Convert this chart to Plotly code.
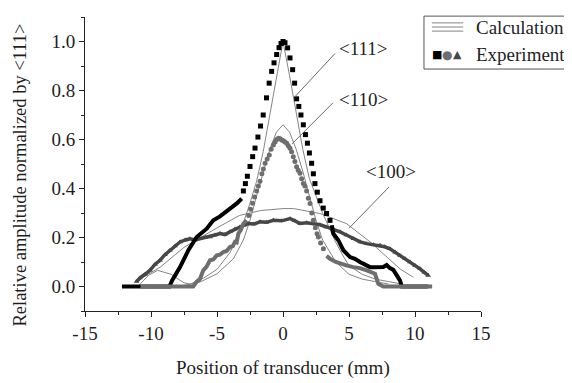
import plotly.graph_objects as go

# ---------------- data ----------------
# Calculation curves (thin gray lines)
calc111_x = [-11.0, -10.2, -9.5, -8.5, -7.5, -7.0, -6.0, -5.0, -4.0, -3.0, -2.5, -2.0, -1.5, -1.0, -0.5, 0.0,
             0.5, 1.0, 1.5, 2.0, 2.5, 3.0, 3.5, 4.0, 4.5, 5.0, 6.0, 7.0, 8.0, 9.0]
calc111_y = [0.0, 0.045, 0.066, 0.05, 0.015, 0.01, 0.035, 0.07, 0.14, 0.26, 0.34, 0.43, 0.55, 0.70, 0.85, 1.0,
             0.86, 0.71, 0.56, 0.44, 0.37, 0.30, 0.24, 0.18, 0.13, 0.085, 0.05, 0.03, 0.02, 0.01]
calc110_x = [-7.5, -6.3, -5.0, -3.76, -3.0, -2.5, -2.0, -1.5, -1.0, -0.5, 0.0, 0.5, 1.0, 1.5, 2.0, 2.5, 3.0,
             4.0, 5.0, 6.0, 7.0, 8.0]
calc110_y = [0.004, 0.018, 0.052, 0.113, 0.19, 0.27, 0.37, 0.47, 0.56, 0.63, 0.66, 0.63, 0.56, 0.47, 0.37,
             0.27, 0.19, 0.10, 0.05, 0.03, 0.02, 0.01]
calc100_x = [-10.6, -9.3, -7.5, -5.3, -3.3, -1.7, 0.0, 0.8, 2.8, 4.8, 6.6, 7.85, 8.86, 9.87]
calc100_y = [0.038, 0.079, 0.16, 0.23, 0.29, 0.31, 0.318, 0.318, 0.298, 0.257, 0.182, 0.12, 0.072, 0.038]

# Experiment <111> (black squares): dense tails and sparse peak
exp111_left_x = [-12.2, -8.6, -8.4, -7.8, -7.17, -6.54, -5.78, -5.28, -4.8, -4.27, -3.9, -3.5, -3.13]
exp111_left_y = [0.0, 0.0, 0.025, 0.079, 0.148, 0.202, 0.236, 0.27, 0.285, 0.305, 0.322, 0.339, 0.359]
exp111_peak_x = [-3.0, -2.85, -2.7, -2.5, -2.3, -2.12, -1.9, -1.7, -1.5, -1.25, -1.05, -0.86, -0.68, -0.48,
                 -0.3, -0.15, 0.0, 0.15, 0.35, 0.53, 0.73, 0.88, 1.03, 1.2, 1.36, 1.54, 1.7, 1.85, 2.0, 2.17,
                 2.3, 2.42, 2.6, 2.8, 3.05, 3.3, 3.56]
exp111_peak_y = [0.39, 0.42, 0.45, 0.49, 0.53, 0.565, 0.61, 0.655, 0.70, 0.77, 0.83, 0.878, 0.913, 0.947,
                 0.975, 0.992, 1.0, 0.995, 0.974, 0.933, 0.885, 0.83, 0.766, 0.735, 0.70, 0.66, 0.62, 0.585,
                 0.545, 0.503, 0.46, 0.42, 0.385, 0.35, 0.32, 0.298, 0.27]
exp111_right_x = [3.7, 3.81, 4.19, 4.57, 5.08, 5.45, 5.83, 6.09, 6.59, 6.84, 7.35, 7.6, 7.85, 8.1, 8.36,
                  8.6, 8.86, 9.0, 11.0]
exp111_right_y = [0.25, 0.216, 0.189, 0.148, 0.12, 0.113, 0.1, 0.093, 0.079, 0.079, 0.079, 0.08, 0.088,
                  0.075, 0.068, 0.045, 0.025, 0.0, 0.0]

# Experiment <110> (gray circles)
exp110_left_x = [-10.8, -6.8, -6.54, -6.3, -6.04, -5.8, -5.53, -5.28, -5.02, -4.77, -4.52, -4.27, -4.02,
                 -3.8, -3.64, -3.51, -3.38, -3.2, -3.0, -2.75]
exp110_left_y = [0.0, 0.0, 0.02, 0.03, 0.066, 0.08, 0.107, 0.11, 0.127, 0.13, 0.141, 0.145, 0.161,
                 0.165, 0.182, 0.18, 0.216, 0.23, 0.257, 0.27]
exp110_peak_x = [-2.6, -2.45, -2.3, -2.15, -2.0, -1.87, -1.74, -1.6, -1.49, -1.36, -1.2, -1.04, -0.9,
                 -0.73, -0.6, -0.48, -0.35, -0.22, -0.1, 0.03, 0.15, 0.28, 0.4, 0.53, 0.65, 0.78, 0.9,
                 1.03, 1.15, 1.29, 1.41, 1.54, 1.66, 1.79, 1.92, 2.05, 2.18, 2.3, 2.45, 2.58, 2.68, 2.85, 3.06]
exp110_peak_y = [0.29, 0.315, 0.34, 0.365, 0.39, 0.41, 0.43, 0.46, 0.48, 0.503, 0.52, 0.537, 0.56,
                 0.578, 0.59, 0.6, 0.605, 0.603, 0.598, 0.595, 0.59, 0.585, 0.575, 0.564, 0.55, 0.53,
                 0.51, 0.489, 0.475, 0.462, 0.44, 0.42, 0.41, 0.39, 0.36, 0.339, 0.30, 0.27, 0.24, 0.215,
                 0.202, 0.178, 0.154]
exp110_right_x = [3.3, 3.56, 4.0, 4.32, 4.8, 5.33, 5.83, 6.34, 6.97, 7.22, 7.6, 11.3]
exp110_right_y = [0.125, 0.113, 0.1, 0.093, 0.086, 0.079, 0.075, 0.066, 0.052, 0.011, 0.0, 0.0]

# Experiment <100> (dark gray triangles)
exp100_x = [-11.1, -10.83, -10.45, -10.08, -9.7, -9.32, -8.94, -8.56, -8.18, -7.8, -7.4, -7.05, -6.67,
            -6.29, -5.9, -5.53, -5.15, -4.77, -4.4, -4.02, -3.64, -3.26, -2.95, -2.63, -2.2, -1.74, -1.25,
            -0.73, -0.1, 0.53, 0.9, 1.29, 1.8, 2.3, 2.8, 3.3, 3.8, 4.32, 4.8, 5.33, 5.85, 6.34, 6.85, 7.35,
            7.7, 8.1, 8.5, 8.86, 9.25, 9.62, 10.0, 10.38, 10.7, 11.0]
exp100_y = [0.02, 0.035, 0.05, 0.066, 0.09, 0.107, 0.13, 0.148, 0.165, 0.182, 0.19, 0.195, 0.19,
            0.195, 0.2, 0.202, 0.21, 0.216, 0.212, 0.223, 0.235, 0.243, 0.25, 0.257, 0.255, 0.264, 0.262,
            0.27, 0.268, 0.277, 0.268, 0.257, 0.26, 0.257, 0.252, 0.243, 0.235, 0.223, 0.21, 0.195, 0.182,
            0.175, 0.17, 0.168, 0.162, 0.154, 0.14, 0.127, 0.113, 0.1, 0.086, 0.072, 0.058, 0.045]

# Tick labels
x_tickvals = [-15, -10, -5, 0, 5, 10, 15]
x_ticktext = ["-15", "-10", "-5", "0", "5", "10", "15"]

# Curve labels
label_text = ["&lt;111&gt;", "&lt;110&gt;", "&lt;100&gt;"]
label_x = [6.08, 6.08, 8.16]
label_y = [0.970, 0.765, 0.471]

FONT = "Liberation Serif"
TXT = "#1e1e1e"
CALC = "#858585"
BLACK = "#000000"
CIRC = "#6e6e6e"
TRI = "#474747"

fig = go.Figure()

for cx, cy in [(calc111_x, calc111_y), (calc110_x, calc110_y), (calc100_x, calc100_y)]:
    fig.add_trace(go.Scatter(x=cx, y=cy, mode="lines", line=dict(color=CALC, width=1),
                             showlegend=False, hoverinfo="skip"))

# triangles <100>
fig.add_trace(go.Scatter(x=exp100_x, y=exp100_y, mode="lines+markers",
                         line=dict(color=TRI, width=3.5),
                         marker=dict(symbol="triangle-up", size=5, color=TRI),
                         showlegend=False))
# black squares <111>
for xs, ys in [(exp111_left_x, exp111_left_y), (exp111_right_x, exp111_right_y)]:
    fig.add_trace(go.Scatter(x=xs, y=ys, mode="lines", line=dict(color=BLACK, width=4),
                             showlegend=False))
fig.add_trace(go.Scatter(x=exp111_peak_x, y=exp111_peak_y, mode="markers",
                         marker=dict(symbol="square", size=5, color=BLACK),
                         showlegend=False))
# gray circles <110>
for xs, ys in [(exp110_left_x, exp110_left_y), (exp110_right_x, exp110_right_y)]:
    fig.add_trace(go.Scatter(x=xs, y=ys, mode="lines", line=dict(color=CIRC, width=4),
                             showlegend=False))
fig.add_trace(go.Scatter(x=exp110_peak_x, y=exp110_peak_y, mode="markers",
                         marker=dict(symbol="circle", size=5, color=CIRC),
                         showlegend=False))

# leader lines for labels
leaders = [((3.94, 0.951), (0.91, 0.775)), ((3.79, 0.75), (0.68, 0.582)), ((8.03, 0.406), (5.0, 0.238))]
for (x0, y0), (x1, y1) in leaders:
    fig.add_shape(type="line", xref="x", yref="y", x0=x0, y0=y0, x1=x1, y1=y1,
                  line=dict(color="#6a6a6a", width=1))

annotations = []
for t, x, y in zip(label_text, label_x, label_y):
    annotations.append(dict(text=t, x=x, y=y, xref="x", yref="y", showarrow=False,
                            xanchor="center", yanchor="middle",
                            font=dict(family=FONT, size=19, color=TXT)))

# axis titles
annotations.append(dict(text="Position of transducer (mm)", x=0.5, y=-0.194, xref="paper", yref="paper",
                        xanchor="center", yanchor="middle", showarrow=False,
                        font=dict(family=FONT, size=19, color=TXT)))
annotations.append(dict(text="Relative amplitude normalized by &lt;111&gt;", x=-0.165, y=0.463,
                        xref="paper", yref="paper", textangle=-90, showarrow=False,
                        xanchor="center", yanchor="middle",
                        font=dict(family=FONT, size=18.5, color=TXT)))

# custom legend
fig.add_shape(type="rect", xref="paper", yref="paper", x0=0.856, x1=1.227, y0=0.823, y1=1.003,
              line=dict(color="#555", width=1), fillcolor="white", layer="above")
for yy in [0.980, 0.966, 0.952]:
    fig.add_shape(type="line", xref="paper", yref="paper", x0=0.876, x1=0.955, y0=yy, y1=yy,
                  line=dict(color=CALC, width=1), layer="above")
annotations.append(dict(text="Calculation", x=0.982, y=0.963, xref="paper", yref="paper",
                        xanchor="left", yanchor="middle", showarrow=False,
                        font=dict(family=FONT, size=19, color=TXT)))
annotations.append(dict(text="Experiment", x=0.982, y=0.871, xref="paper", yref="paper",
                        xanchor="left", yanchor="middle", showarrow=False,
                        font=dict(family=FONT, size=19, color=TXT)))
for sym, px, col, sz in [("■", 0.889, BLACK, 11), ("●", 0.914, CIRC, 12), ("▲", 0.940, TRI, 11)]:
    annotations.append(dict(text=sym, x=px, y=0.871, xref="paper", yref="paper", showarrow=False,
                            xanchor="center", yanchor="middle",
                            font=dict(family="DejaVu Sans", size=sz, color=col)))

fig.update_layout(
    width=572, height=383,
    margin=dict(l=77, r=99, t=9, b=80),
    paper_bgcolor="white", plot_bgcolor="white",
    annotations=annotations,
    font=dict(family=FONT, size=19, color=TXT),
    xaxis=dict(range=[-15, 15], tickmode="array", tickvals=x_tickvals, ticktext=x_ticktext,
               showgrid=False, zeroline=False,
               showline=True, linecolor="#222", linewidth=1, ticks="outside", ticklen=5,
               tickcolor="#222", tickfont=dict(family=FONT, size=19, color=TXT),
               minor=dict(dtick=2.5, tick0=0, ticks="outside", ticklen=3, tickcolor="#222")),
    yaxis=dict(range=[-0.1, 1.1], dtick=0.2, tick0=0, tickformat=".1f", showgrid=False, zeroline=False,
               showline=True, linecolor="#222", linewidth=1, ticks="outside", ticklen=5,
               tickcolor="#222", tickfont=dict(family=FONT, size=19, color=TXT),
               minor=dict(dtick=0.1, ticks="outside", ticklen=3, tickcolor="#222")),
)

fig.write_html("out.html")
